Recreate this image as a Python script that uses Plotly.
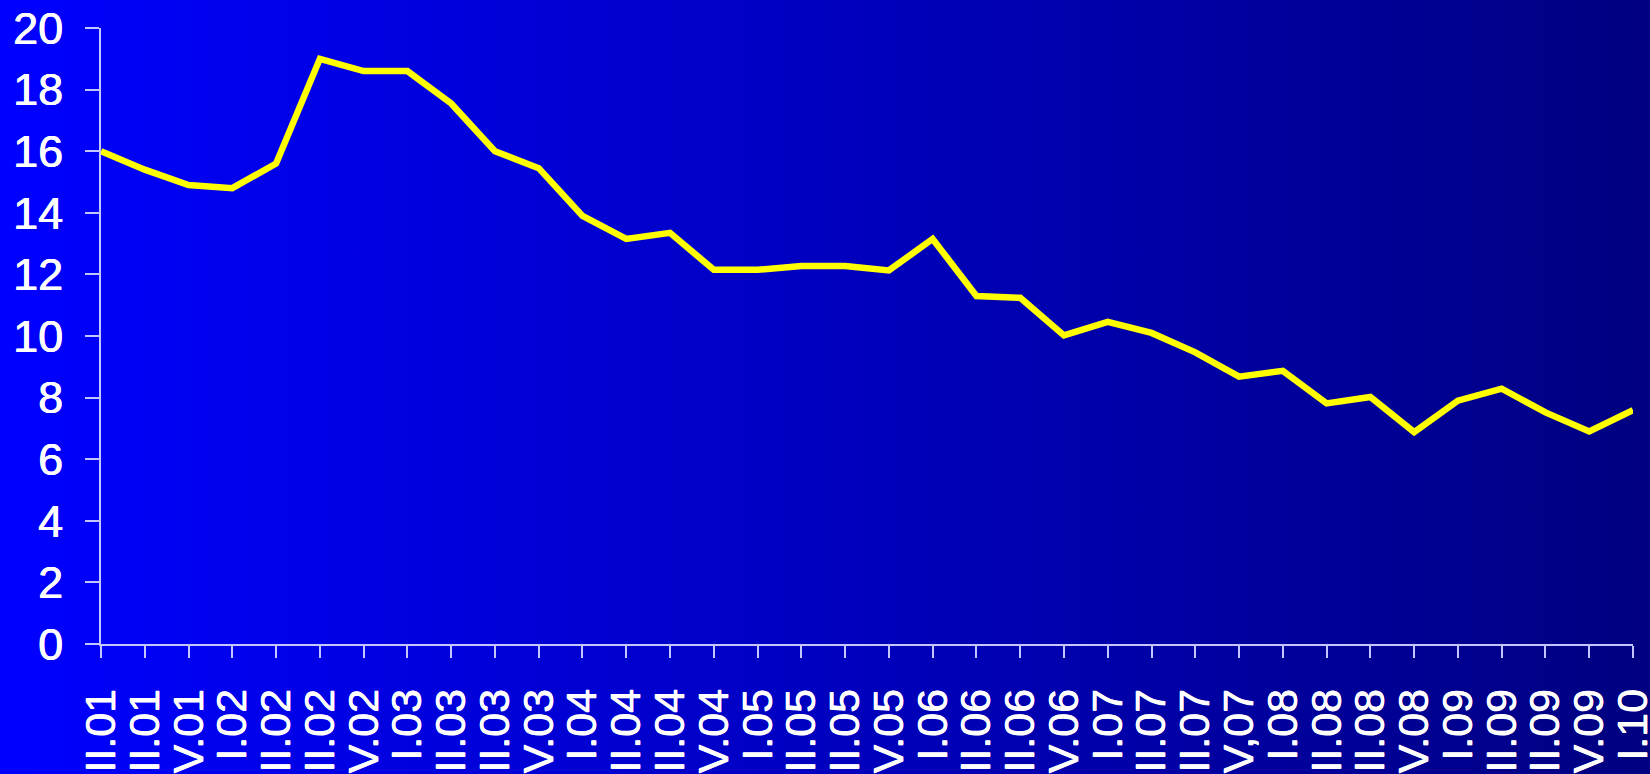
import base64
import plotly.graph_objects as go

quarters = ["II.01", "III.01", "IV.01", "I.02", "II.02", "III.02", "IV.02", "I.03",
            "II.03", "III.03", "IV.03", "I.04", "II.04", "III.04", "IV.04", "I.05",
            "II.05", "III.05", "IV.05", "I.06", "II.06", "III.06", "IV.06", "I.07",
            "II.07", "III.07", "IV,07", "I.08", "II.08", "III.08", "IV.08", "I.09",
            "II.09", "III.09", "IV.09", "I.10"]
values = [16.0, 15.4, 14.9, 14.8, 15.6, 19.0, 18.6, 18.6, 17.55, 16.0, 15.45, 13.9,
          13.15, 13.35, 12.15, 12.15, 12.27, 12.27, 12.13, 13.15, 11.3, 11.24, 10.02,
          10.46, 10.1, 9.47, 8.68, 8.87, 7.81, 8.02, 6.88, 7.9, 8.29, 7.52, 6.9, 7.59]
y_ticks = list(range(0, 21, 2))

W, H = 1650, 774
ML, MR, MT, MB = 101, 17, 28, 130
PW, PH = W - ML - MR, H - MT - MB

svg = ('<svg xmlns="http://www.w3.org/2000/svg" width="1650" height="774" '
       'preserveAspectRatio="none" viewBox="0 0 1650 774">'
       '<defs><linearGradient id="g" x1="0" y1="0" x2="1" y2="0">'
       '<stop offset="0" stop-color="#0000ff"/>'
       '<stop offset="1" stop-color="#000080"/>'
       '</linearGradient></defs>'
       '<rect x="0" y="0" width="1650" height="774" fill="url(#g)"/></svg>')
src = "data:image/svg+xml;base64," + base64.b64encode(svg.encode()).decode()

axis_col = "#c4c4ff"
font_family = "Arial, 'Liberation Sans', sans-serif"
thick = "0.4px 0 0 white, -0.4px 0 0 white"

fig = go.Figure()
fig.add_trace(go.Scatter(
    x=list(range(len(quarters))), y=values, mode="lines",
    line=dict(color="#ffff00", width=6.5), cliponaxis=False,
    hoverinfo="skip", showlegend=False))

fig.add_layout_image(dict(
    source=src, xref="paper", yref="paper",
    x=-ML / PW, y=1 + MT / PH, sizex=W / PW, sizey=H / PH,
    xanchor="left", yanchor="top", sizing="stretch", layer="below"))

fig.update_layout(
    width=W, height=H,
    margin=dict(l=ML, r=MR, t=MT, b=MB, autoexpand=False),
    paper_bgcolor="#0000c0", plot_bgcolor="rgba(0,0,0,0)",
    font=dict(family=font_family, color="white", size=44),
    showlegend=False,
)
fig.update_xaxes(
    range=[0, len(quarters) - 1], tickmode="array",
    tickvals=list(range(len(quarters))), ticktext=quarters,
    tickangle=-90, ticks="outside", ticklen=12, tickwidth=1.5, tickcolor=axis_col,
    showline=True, linecolor=axis_col, linewidth=1.5,
    showgrid=False, zeroline=False, automargin=False,
    tickfont=dict(size=43, color="white", family=font_family, shadow=thick),
    ticklabelstandoff=14, ticklabeloverflow="allow",
)
fig.update_yaxes(
    range=[0, 20], tickmode="array", tickvals=y_ticks,
    ticks="outside", ticklen=14, tickwidth=1.5, tickcolor=axis_col,
    showline=True, linecolor=axis_col, linewidth=1.5,
    showgrid=False, zeroline=False, automargin=False,
    tickfont=dict(size=45, color="white", family=font_family, shadow=thick),
    ticklabelstandoff=13, ticklabeloverflow="allow",
)

fig.write_html("out.html",
               config={"displayModeBar": False},
               post_script="document.body.style.margin='0';"
                           "document.body.style.overflow='hidden';")
